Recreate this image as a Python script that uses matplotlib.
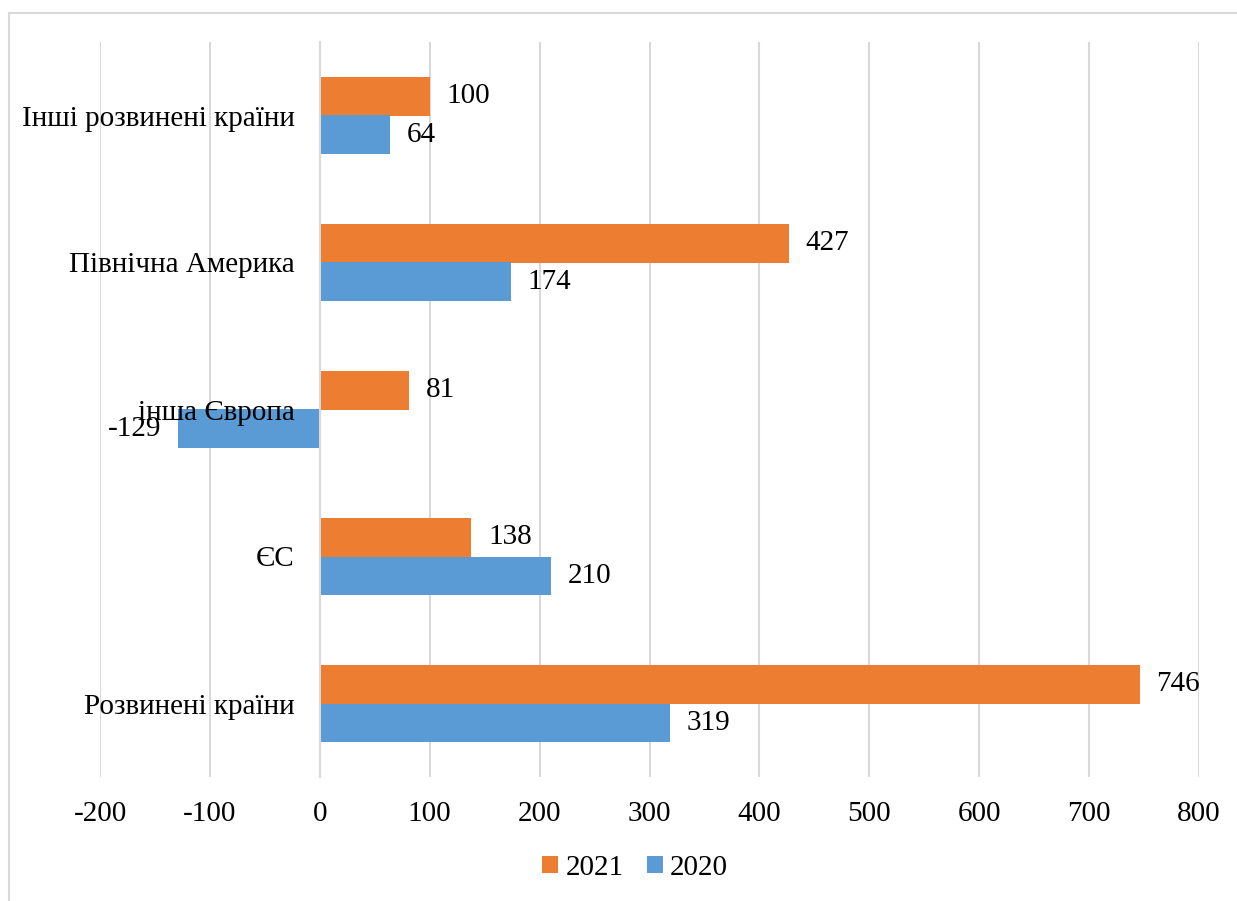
import matplotlib
matplotlib.use("Agg")
import matplotlib.pyplot as plt
from matplotlib.lines import Line2D
import numpy as np

categories = ["Розвинені країни", "ЄС", "інша Європа", "Північна Америка", "Інші розвинені країни"]
values_2021 = [746, 138, 81, 427, 100]
values_2020 = [319, 210, -129, 174, 64]
series_names = ["2021", "2020"]
x_ticks = [-200, -100, 0, 100, 200, 300, 400, 500, 600, 700, 800]

plt.rcParams['font.family'] = ['Liberation Serif', 'DejaVu Serif']
FS = 21
c2021 = "#ED7D31"
c2020 = "#5B9BD5"
grid_c = "#D9D9D9"

W, H = 1237, 901
fig = plt.figure(figsize=(W / 100, H / 100), dpi=100)
ax = fig.add_axes([100 / W, 1 - 777 / H, (1199 - 100) / W, (777 - 42) / H])

for s in ['top', 'right', 'bottom']:
    ax.spines[s].set_visible(False)
ax.spines['left'].set_position(('data', 0))
ax.spines['left'].set_color(grid_c)
ax.spines['left'].set_linewidth(1.5)

y = np.arange(len(categories))
h = 0.26
b21 = ax.barh(y + h / 2, values_2021, height=h, color=c2021, label=series_names[0], zorder=1)
b20 = ax.barh(y - h / 2, values_2020, height=h, color=c2020, label=series_names[1], zorder=1)

ax.bar_label(b21, labels=[str(v) for v in values_2021], padding=12, fontsize=FS)
ax.bar_label(b20, labels=[str(v) for v in values_2020], padding=12, fontsize=FS)

ax.set_xlim(-200, 800)
ax.set_ylim(-0.5, len(categories) - 0.5)
ax.set_xticks(x_ticks)
ax.set_xticklabels([str(t) for t in x_ticks], fontsize=FS)
ax.set_yticks(y)
ax.set_yticklabels(categories, fontsize=FS)
ax.tick_params(axis='both', length=0)
ax.tick_params(axis='x', pad=17)
ax.tick_params(axis='y', pad=18)

ax.xaxis.grid(True, color=grid_c, linewidth=1.5)
ax.set_axisbelow(True)
ax.yaxis.set_zorder(5)

# outer chart border
fig.add_artist(Line2D([9 / W, 1], [1 - 13 / H, 1 - 13 / H], color=grid_c, linewidth=1.5, transform=fig.transFigure))
fig.add_artist(Line2D([9 / W, 9 / W], [0, 1 - 13 / H], color=grid_c, linewidth=1.5, transform=fig.transFigure))

fig.legend(handles=[b21, b20], labels=series_names, loc='center',
           bbox_to_anchor=(635 / W, 1 - 868 / H), ncol=2, frameon=False,
           fontsize=FS, handlelength=0.55, handleheight=0.55, handletextpad=0.25,
           columnspacing=0.8)

fig.savefig("out.png", dpi=100)
